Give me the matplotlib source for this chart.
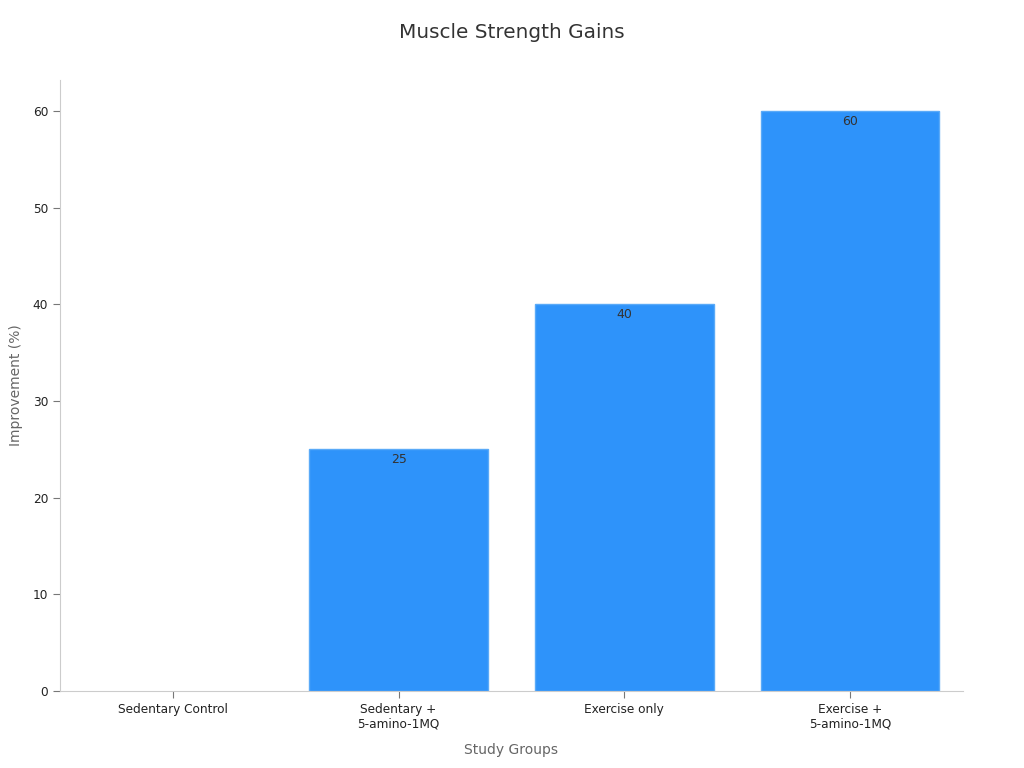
import matplotlib
matplotlib.use("Agg")
import matplotlib.pyplot as plt

categories = ["Sedentary Control", "Sedentary +\n5-amino-1MQ", "Exercise only", "Exercise +\n5-amino-1MQ"]
values = [0, 25, 40, 60]

plt.rcParams['font.family'] = ['DejaVu Sans']
fig = plt.figure(figsize=(10.24, 7.68), dpi=100)
ax = fig.add_axes([0.0586, 0.1003, 0.8818, 0.7955])

x = list(range(len(categories)))
edge_widths = [1 if v > 0 else 0 for v in values]
bars = ax.bar(x, values, width=0.79, color="#2E93FA", edgecolor="#5aaaf8", linewidth=edge_widths)
for xi, v in zip(x, values):
    if v > 0:
        ax.text(xi, v - 0.4, str(v), ha="center", va="top", fontsize=9, color="#333333")

ax.set_xlim(-0.5, 3.5)
ax.set_ylim(0, 63.2)
ax.set_yticks([0, 10, 20, 30, 40, 50, 60])
ax.set_xticks(x)
ax.set_xticklabels(categories, fontsize=8.7, color="#222222")
ax.tick_params(axis="y", labelsize=8.7, labelcolor="#222222", color="#777777", length=5)
ax.tick_params(axis="x", color="#777777", length=5)
for s in ["top", "right"]:
    ax.spines[s].set_visible(False)
for s in ["left", "bottom"]:
    ax.spines[s].set_color("#cccccc")

ax.set_xlabel("Study Groups", fontsize=10, color="#666666", labelpad=9)
ax.set_ylabel("Improvement (%)", fontsize=10, color="#666666", labelpad=7)
fig.text(0.5, 1 - 33 / 768, "Muscle Strength Gains", fontsize=14.4, color="#333333",
         ha="center", va="center")

fig.savefig("out.png", dpi=100)
